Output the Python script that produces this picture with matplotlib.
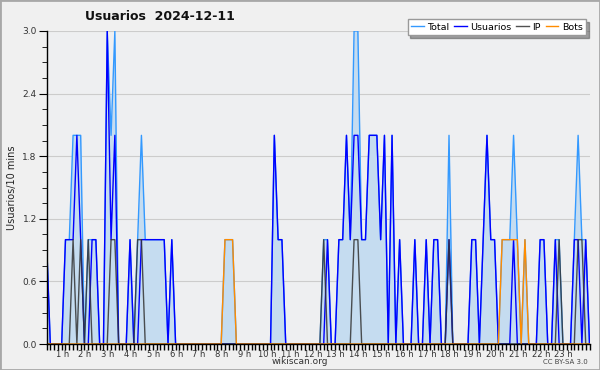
import matplotlib
matplotlib.use("Agg")
import matplotlib.pyplot as plt
import matplotlib.transforms as mtransforms
from matplotlib.patches import Rectangle
import numpy as np

# one value per 10 minutes, 144 per day (rows of 4 hours)
usuarios = [1, 0, 0, 0, 0, 1, 1, 1, 2, 1, 0, 0, 1, 1, 0, 0, 3, 1, 2, 0, 0, 0, 1, 0,
            0, 1, 1, 1, 1, 1, 1, 1, 0, 1, 0, 0, 0, 0, 0, 0, 0, 0, 0, 0, 0, 0, 0, 0,
            0, 0, 0, 0, 0, 0, 0, 0, 0, 0, 0, 0, 2, 1, 1, 0, 0, 0, 0, 0, 0, 0, 0, 0,
            0, 0, 1, 0, 0, 1, 1, 2, 1, 2, 2, 1, 1, 2, 2, 2, 1, 2, 0, 2, 0, 1, 0, 0,
            0, 1, 0, 0, 1, 0, 1, 1, 0, 0, 1, 0, 0, 0, 0, 0, 1, 1, 0, 1, 2, 1, 1, 0,
            0, 0, 0, 1, 0, 0, 0, 0, 0, 0, 1, 1, 0, 0, 1, 0, 0, 0, 0, 1, 1, 0, 1, 0]
ip = [0, 0, 0, 0, 0, 0, 0, 1, 0, 1, 0, 1, 0, 0, 0, 0, 0, 1, 1, 0, 0, 0, 0, 0,
      1, 1, 0, 0, 0, 0, 0, 0, 0, 0, 0, 0, 0, 0, 0, 0, 0, 0, 0, 0, 0, 0, 0, 0,
      0, 0, 0, 0, 0, 0, 0, 0, 0, 0, 0, 0, 0, 0, 0, 0, 0, 0, 0, 0, 0, 0, 0, 0,
      0, 1, 0, 0, 0, 0, 0, 0, 0, 1, 1, 0, 0, 0, 0, 0, 0, 0, 0, 0, 0, 0, 0, 0,
      0, 0, 0, 0, 0, 0, 0, 0, 0, 0, 1, 0, 0, 0, 0, 0, 0, 0, 0, 0, 0, 0, 0, 0,
      0, 0, 0, 0, 0, 0, 0, 0, 0, 0, 0, 0, 0, 0, 0, 1, 0, 0, 0, 0, 1, 1, 0, 0]
bots = [0, 0, 0, 0, 0, 0, 0, 0, 0, 0, 0, 0, 0, 0, 0, 0, 0, 0, 0, 0, 0, 0, 0, 0,
        0, 0, 0, 0, 0, 0, 0, 0, 0, 0, 0, 0, 0, 0, 0, 0, 0, 0, 0, 0, 0, 0, 0, 1,
        1, 1, 0, 0, 0, 0, 0, 0, 0, 0, 0, 0, 0, 0, 0, 0, 0, 0, 0, 0, 0, 0, 0, 0,
        0, 0, 0, 0, 0, 0, 0, 0, 0, 0, 0, 0, 0, 0, 0, 0, 0, 0, 0, 0, 0, 0, 0, 0,
        0, 0, 0, 0, 0, 0, 0, 0, 0, 0, 0, 0, 0, 0, 0, 0, 0, 0, 0, 0, 0, 0, 0, 0,
        1, 1, 1, 1, 1, 0, 1, 0, 0, 0, 0, 0, 0, 0, 0, 0, 0, 0, 0, 0, 0, 0, 0, 0]
total = [u + i + b for u, i, b in zip(usuarios, ip, bots)]

hour_labels = ["%d h" % h for h in range(1, 24)]
y_ticks = [0.0, 0.6, 1.2, 1.8, 2.4, 3.0]

x = np.arange(len(total))

fig = plt.figure(figsize=(6, 3.7), dpi=100, facecolor="#f0f0f0")
fig.patches.append(Rectangle((0, 0), 1, 1, transform=fig.transFigure,
                             fill=False, edgecolor="#a8a8a8", linewidth=2))
ax = fig.add_axes([46.5 / 600, 26 / 370, 543 / 600, 313 / 370])
ax.set_facecolor("#eeeff1")

ax.fill_between(x, total, 0, color="#c5dcf0", linewidth=0)
ax.plot(x, total, color="#3399ff", lw=1.0, label="Total")
ax.plot(x, usuarios, color="#0000ff", lw=1.0, label="Usuarios")
ax.plot(x, ip, color="#333333", lw=1.0, alpha=0.85, label="IP")
ax.plot(x, bots, color="#ff8c00", lw=1.0, label="Bots")

ax.set_xlim(0, len(total) - 1)
ax.set_ylim(0, 3.0)
ax.set_yticks(y_ticks)
ax.set_yticklabels(["%.1f" % v for v in y_ticks])
ax.set_yticks(np.arange(0, 3.01, 0.15), minor=True)
ax.set_xticks(np.arange(6, 144, 6))
ax.set_xticklabels(hour_labels)
ax.set_xticks(np.arange(0, 144, 1), minor=True)
ax.grid(axis="y", color="#cccccc", lw=0.8)
ax.set_axisbelow(True)

for s in ["top", "right"]:
    ax.spines[s].set_visible(False)
for s in ["left", "bottom"]:
    ax.spines[s].set_color("black")
    ax.spines[s].set_linewidth(1.0)

ax.tick_params(axis="both", which="both", direction="out", color="black",
               labelcolor="#333333")
ax.tick_params(axis="y", which="major", length=6, labelsize=6.5, pad=1)
ax.tick_params(axis="y", which="minor", length=3.5)
ax.tick_params(axis="x", which="both", length=4, width=1, labelsize=6, pad=0)

shift = mtransforms.ScaledTranslation(-5 / 72, 0, fig.dpi_scale_trans)
for lab in ax.get_xticklabels():
    lab.set_transform(lab.get_transform() + shift)

ax.set_ylabel("Usuarios/10 mins", fontsize=7, color="#222222", labelpad=4)

fig.text(85 / 600, 1 - 17 / 370, "Usuarios  2024-12-11", fontsize=9,
         fontweight="bold", ha="left", va="center", color="#111111")
fig.text(300 / 600, 1 - 362 / 370, "wikiscan.org", fontsize=6.5, ha="center",
         va="center", color="#333333")
fig.text(588 / 600, 1 - 362 / 370, "CC BY-SA 3.0", fontsize=5, ha="right",
         va="center", color="#444444")

leg = ax.legend(loc="upper right", bbox_to_anchor=(591 / 600, 1 - 14 / 370),
                bbox_transform=fig.transFigure, ncol=4, fontsize=6.8,
                handlelength=1.3, handletextpad=0.4, columnspacing=0.5,
                borderpad=0.4, fancybox=False, shadow=True, framealpha=1)
leg.get_frame().set_edgecolor("#999999")
leg.get_frame().set_facecolor("white")

fig.savefig("out.png", dpi=100, facecolor=fig.get_facecolor())
